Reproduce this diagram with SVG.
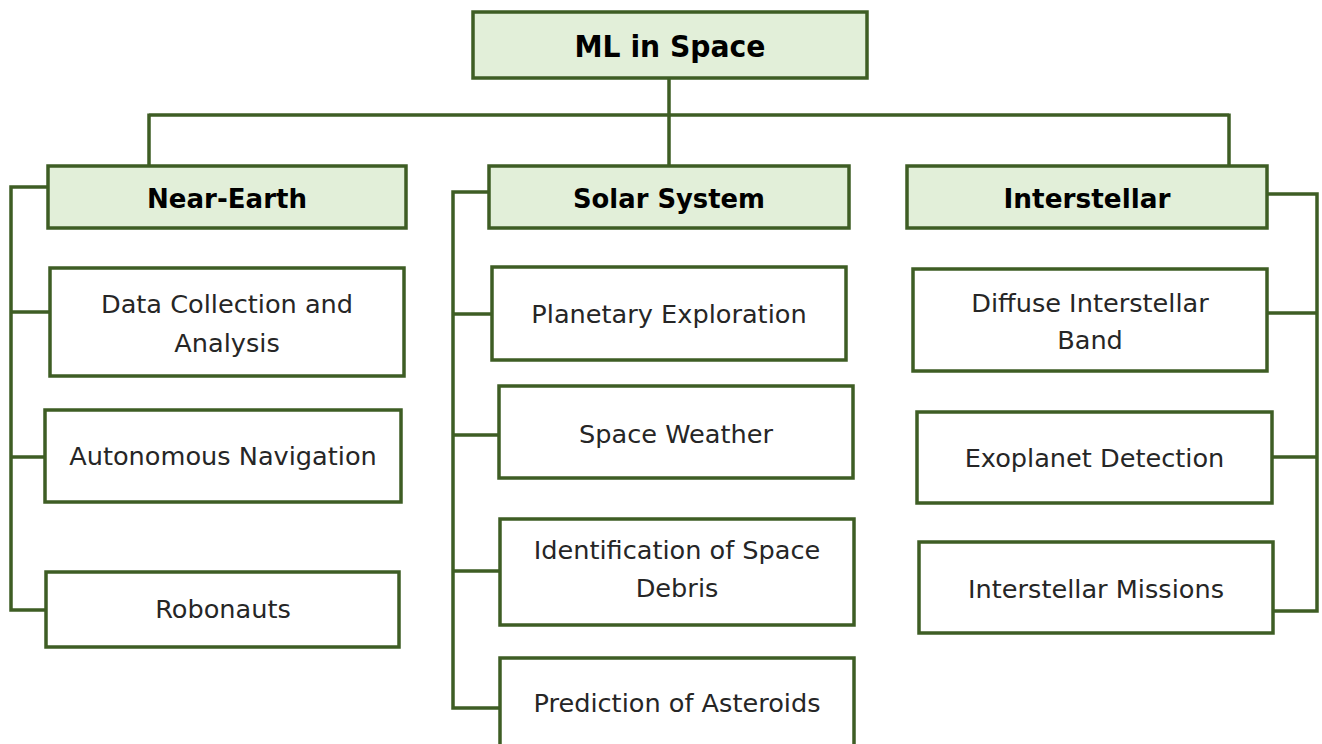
<svg xmlns="http://www.w3.org/2000/svg" width="1322" height="744" viewBox="0 0 1322 744">
<style>
.hdr{fill:#e2efd9;stroke:#3e5d24;stroke-width:3.5}
.box{fill:#ffffff;stroke:#3e5d24;stroke-width:3.5}
.conn{fill:none;stroke:#3e5d24;stroke-width:3.5}
.bt{font-family:"DejaVu Sans",Verdana,sans-serif;font-weight:bold;fill:#000;text-anchor:middle}
.rt{font-family:"DejaVu Sans",Verdana,sans-serif;font-size:25.6px;fill:#262626;text-anchor:middle}
</style>
<rect width="1322" height="744" fill="#ffffff"/>
<g id="connectors">
<path class="conn" d="M669,78 V166 M149,115 H1229 M149,113.5 V166 M1229,113.5 V166"/>
<path class="conn" d="M48,187 H11 V610 H46 M11,312 H50 M11,457 H45"/>
<path class="conn" d="M489,192 H453 V708 H500 M453,314 H492 M453,435 H499 M453,571 H500"/>
<path class="conn" d="M1267,194 H1317 V611 H1271 M1267,313 H1317 M1272,457 H1317"/>
</g>
<g id="root"><rect class="hdr" x="473" y="12" width="394" height="66"/><text class="bt" x="670" y="57" font-size="30" textLength="191" lengthAdjust="spacingAndGlyphs">ML in Space</text></g>
<g id="near-earth"><rect class="hdr" x="48" y="166" width="358" height="62"/><text class="bt" x="227" y="208" font-size="27" textLength="160" lengthAdjust="spacingAndGlyphs">Near-Earth</text></g>
<g id="solar-system"><rect class="hdr" x="489" y="166" width="360" height="62"/><text class="bt" x="669" y="208" font-size="27" textLength="192" lengthAdjust="spacingAndGlyphs">Solar System</text></g>
<g id="interstellar"><rect class="hdr" x="907" y="166" width="360" height="62"/><text class="bt" x="1087" y="208" font-size="27" textLength="167" lengthAdjust="spacingAndGlyphs">Interstellar</text></g>
<g id="data-collection"><rect class="box" x="50" y="268" width="354" height="108"/><text class="rt" x="227" y="313">Data Collection and</text><text class="rt" x="227" y="352">Analysis</text></g>
<g id="autonomous-navigation"><rect class="box" x="45" y="410" width="356" height="92"/><text class="rt" x="223" y="465">Autonomous Navigation</text></g>
<g id="robonauts"><rect class="box" x="46" y="572" width="353" height="75"/><text class="rt" x="223" y="618">Robonauts</text></g>
<g id="planetary-exploration"><rect class="box" x="492" y="267" width="354" height="93"/><text class="rt" x="669" y="323">Planetary Exploration</text></g>
<g id="space-weather"><rect class="box" x="499" y="386" width="354" height="92"/><text class="rt" x="676" y="443">Space Weather</text></g>
<g id="space-debris"><rect class="box" x="500" y="519" width="354" height="106"/><text class="rt" x="677" y="559">Identification of Space</text><text class="rt" x="677" y="597">Debris</text></g>
<g id="asteroids"><rect class="box" x="500" y="658" width="354" height="100"/><text class="rt" x="677" y="712">Prediction of Asteroids</text></g>
<g id="diffuse-band"><rect class="box" x="913" y="269" width="354" height="102"/><text class="rt" x="1090" y="312">Diffuse Interstellar</text><text class="rt" x="1090" y="349">Band</text></g>
<g id="exoplanet-detection"><rect class="box" x="917" y="412" width="355" height="91"/><text class="rt" x="1094.5" y="467">Exoplanet Detection</text></g>
<g id="interstellar-missions"><rect class="box" x="919" y="542" width="354" height="91"/><text class="rt" x="1096" y="598">Interstellar Missions</text></g>
</svg>
